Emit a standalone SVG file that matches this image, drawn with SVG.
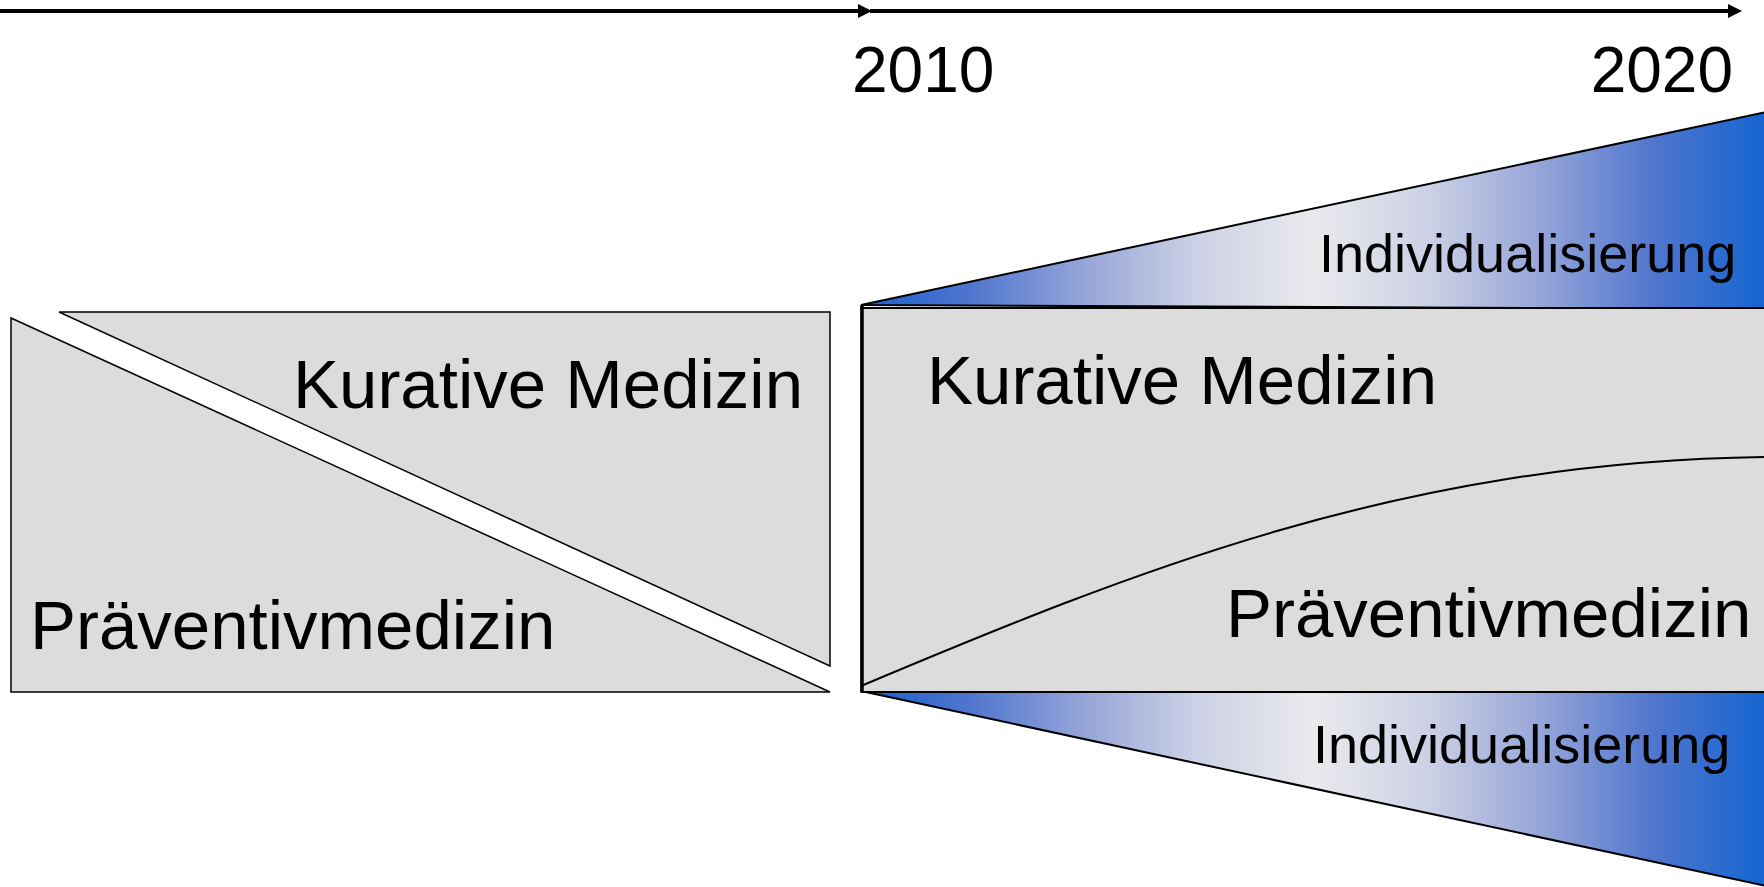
<svg xmlns="http://www.w3.org/2000/svg" width="1764" height="887" viewBox="0 0 1764 887">
<style>
  .t { font-family: "Liberation Sans", Arial, sans-serif; fill: #000; }
  .big { font-size: 69px; }
  .year { font-size: 64px; }
  .ind { font-size: 54px; }
  .gray { fill: #DCDCDC; stroke: #000; stroke-width: 1.5; stroke-linejoin: miter; }
  .grad { fill: url(#blueGrad); stroke: #000; stroke-width: 2; }
  .axis { stroke: #000; stroke-width: 4; fill: none; }
</style>
<defs>
  <linearGradient id="blueGrad" gradientUnits="userSpaceOnUse" x1="861" y1="0" x2="1764" y2="0">
    <stop offset="0" stop-color="#1A5FCC"/>
    <stop offset="0.12" stop-color="#4F75CE"/>
    <stop offset="0.25" stop-color="#97A6D9"/>
    <stop offset="0.37" stop-color="#CBD0E5"/>
    <stop offset="0.5" stop-color="#EAEAEC"/>
    <stop offset="0.63" stop-color="#CBD0E5"/>
    <stop offset="0.75" stop-color="#97A6D9"/>
    <stop offset="0.88" stop-color="#4F75CE"/>
    <stop offset="1" stop-color="#1565D0"/>
  </linearGradient>
</defs>
<rect x="0" y="0" width="1764" height="887" fill="#fff"/>

<g id="connectors">
  <line class="axis" x1="0" y1="11" x2="860" y2="11"/>
  <polygon points="858,4 872,11 858,18" fill="#000"/>
  <line class="axis" x1="870" y1="11" x2="1730" y2="11"/>
  <polygon points="1728,4 1742,11 1728,18" fill="#000"/>
</g>

<g id="year-2010">
  <text class="t year" x="852" y="92">2010</text>
</g>
<g id="year-2020">
  <text class="t year" x="1733" y="92" text-anchor="end">2020</text>
</g>

<g id="left-praeventiv">
  <polygon class="gray" points="11,318 11,692 830,692"/>
  <text class="t big" x="30" y="649">Präventivmedizin</text>
</g>
<g id="left-kurativ">
  <polygon class="gray" points="59,312 830,312 830,666"/>
  <text class="t big" x="293" y="408">Kurative Medizin</text>
</g>

<g id="top-individualisierung">
  <polygon class="grad" points="861,305 1766,112 1766,309"/>
  <text class="t ind" x="1319" y="272">Individualisierung</text>
</g>
<g id="bottom-individualisierung">
  <polygon class="grad" points="861,691 1766,691 1766,886"/>
  <text class="t ind" x="1313" y="763">Individualisierung</text>
</g>

<g id="right-panel">
  <rect x="861.5" y="308" width="906" height="384" fill="#DCDCDC" stroke="#000" stroke-width="2"/>
  <line x1="862" y1="305" x2="862" y2="692" stroke="#000" stroke-width="3.5"/>
  <path d="M861,686 C1130,573 1400,462 1764,457" fill="none" stroke="#000" stroke-width="2"/>
  <text class="t big" x="927" y="404">Kurative Medizin</text>
  <text class="t big" x="1226" y="637">Präventivmedizin</text>
</g>
</svg>
